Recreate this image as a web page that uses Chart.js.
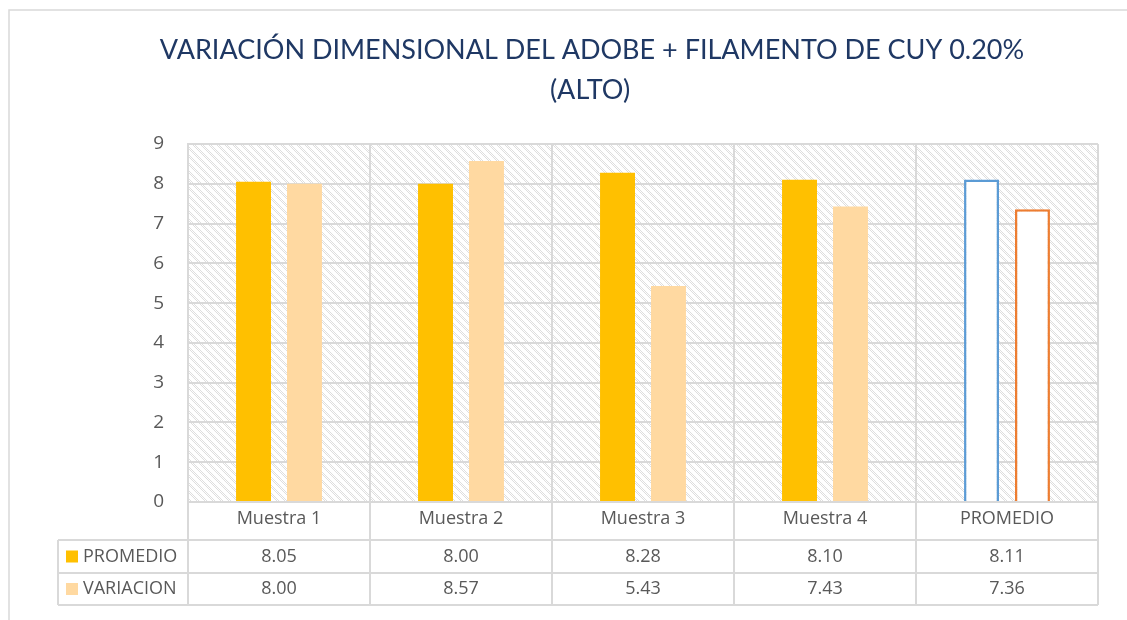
<!DOCTYPE html>
<html>
<head>
<meta charset="utf-8">
<script src="https://cdn.jsdelivr.net/npm/chart.js@4.4.1/dist/chart.umd.min.js"></script>
<style>
  html, body { margin: 0; padding: 0; background: #fff; }
  #wrap { position: relative; width: 1127px; height: 620px; }
</style>
</head>
<body>
<div id="wrap"><canvas id="myChart" width="1127" height="620"></canvas></div>
<script>
var categories = ["Muestra 1", "Muestra 2", "Muestra 3", "Muestra 4", "PROMEDIO"];
var promedio = [8.05, 8.00, 8.28, 8.10, 8.11];
var variacion = [8.00, 8.57, 5.43, 7.43, 7.36];
var promedioText = ["8.05", "8.00", "8.28", "8.10", "8.11"];
var variacionText = ["8.00", "8.57", "5.43", "7.43", "7.36"];
var titleLines = ["VARIACIÓN DIMENSIONAL DEL ADOBE + FILAMENTO DE CUY 0.20%", "(ALTO)"];

var gold = "#FFC000";
var peach = "#FFD9A1";
var gridGray = "#D9D9D9";
var textGray = "#595959";

// hatch pattern for the plot area
function makeHatch() {
  var c = document.createElement("canvas");
  c.width = 8; c.height = 8;
  var g = c.getContext("2d");
  g.fillStyle = "#fff";
  g.fillRect(0, 0, 8, 8);
  g.fillStyle = "#DEDEDE";
  for (var x = 0; x < 8; x++) {
    for (var y = 0; y < 8; y++) {
      var d = ((x - y) % 8 + 8) % 8;
      if (d < 4 && (x + y) % 2 == 0) g.fillRect(x, y, 1, 1);
    }
  }
  return c;
}

var framePlugin = {
  id: "frame",
  beforeDraw: function (chart) {
    var ctx = chart.ctx, a = chart.chartArea;
    ctx.save();
    ctx.fillStyle = "#fff";
    ctx.fillRect(0, 0, chart.width, chart.height);
    // outer frame
    ctx.strokeStyle = "#D9D9D9";
    ctx.lineWidth = 1.5;
    ctx.beginPath();
    ctx.moveTo(9, chart.height);
    ctx.lineTo(9, 10);
    ctx.lineTo(chart.width, 10);
    ctx.stroke();
    ctx.fillStyle = ctx.createPattern(makeHatch(), "repeat");
    ctx.fillRect(a.left, a.top, a.right - a.left, a.bottom - a.top);
    // title
    ctx.fillStyle = "#1F3864";
    ctx.font = "27px Lato";
    ctx.textAlign = "center";
    ctx.textBaseline = "middle";
    ctx.fillText(titleLines[0], 592, 50);
    ctx.fillText(titleLines[1], 590, 90);
    ctx.restore();
  },
  afterDraw: function (chart) {
    var ctx = chart.ctx, a = chart.chartArea, xs = chart.scales.x;
    var colW = (a.right - a.left) / categories.length;
    var r0 = a.bottom, r1 = a.bottom + 38, r2 = r1 + 33, r3 = r2 + 32;
    var left = 58;
    ctx.save();
    ctx.strokeStyle = gridGray;
    ctx.lineWidth = 2;
    ctx.beginPath();
    for (var i = 0; i <= categories.length; i++) {
      var x = a.left + i * colW;
      ctx.moveTo(x, r0); ctx.lineTo(x, r3);
    }
    ctx.moveTo(left, r1); ctx.lineTo(left, r3);
    [r1, r2, r3].forEach(function (y) {
      ctx.moveTo(left, y); ctx.lineTo(a.right, y);
    });
    ctx.stroke();

    ctx.font = "18px 'Open Sans'";
    ctx.textBaseline = "middle";
    var rows = [[promedioText, gold, "PROMEDIO", (r1 + r2) / 2], [variacionText, peach, "VARIACION", (r2 + r3) / 2]];
    rows.forEach(function (row) {
      var y = row[3];
      ctx.fillStyle = row[1];
      ctx.fillRect(66, y - 6, 12, 12);
      ctx.fillStyle = textGray;
      ctx.textAlign = "left";
      ctx.fillText(row[2], 83, y);
      ctx.textAlign = "center";
      for (var j = 0; j < row[0].length; j++) {
        ctx.fillText(row[0][j], xs.getPixelForValue(j), y);
      }
    });
    ctx.restore();
  }
};

var ctx = document.getElementById("myChart");
var myChart = new Chart(ctx, {
  type: "bar",
  data: {
    labels: categories,
    datasets: [{
      label: "PROMEDIO",
      data: promedio,
      backgroundColor: [gold, gold, gold, gold, "#fff"],
      borderColor: [gold, gold, gold, gold, "#5B9BD5"],
      borderWidth: [0, 0, 0, 0, 2.5]
    },
    {
      label: "VARIACION",
      data: variacion,
      backgroundColor: [peach, peach, peach, peach, "#fff"],
      borderColor: [peach, peach, peach, peach, "#ED7D31"],
      borderWidth: [0, 0, 0, 0, 2.5]
    }]
  },
  options: {
    responsive: false,
    animation: false,
    layout: { padding: { left: 0, top: 144, right: 29, bottom: 80 } },
    categoryPercentage: 0.56,
    barPercentage: 0.686,
    plugins: {
      legend: { display: false },
      title: { display: false },
      tooltip: { enabled: false }
    },
    scales: {
      x: {
        grid: { offset: true, color: gridGray, lineWidth: 2, drawTicks: false },
        border: { color: gridGray, width: 2 },
        ticks: { color: textGray, font: { family: "Open Sans", size: 18 }, padding: 6 },
        afterFit: function (s) { s.height = 38; }
      },
      y: {
        min: 0,
        max: 9,
        grid: { color: gridGray, lineWidth: 2, drawTicks: false },
        border: { color: gridGray, width: 2 },
        ticks: { stepSize: 1, color: textGray, font: { family: "Open Sans", size: 19 }, padding: 24 },
        afterFit: function (s) { s.width = 188; }
      }
    }
  },
  plugins: [framePlugin]
});
</script>
</body>
</html>
